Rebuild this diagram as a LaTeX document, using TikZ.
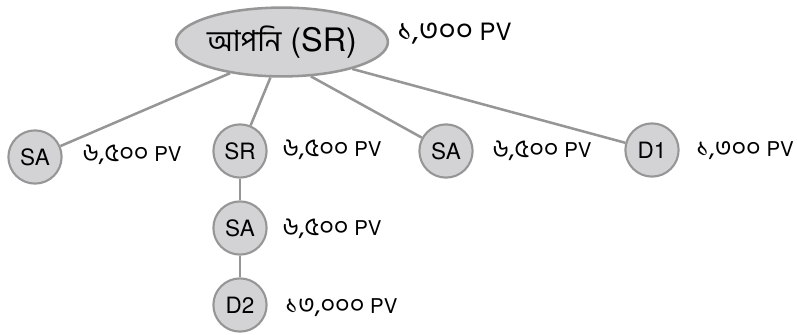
\documentclass[tikz,border=0pt]{standalone}
\usepackage{fontspec}
\setmainfont{TeX Gyre Heros}
\newfontfamily\bn[Script=Bengali,Scale=1.25]{Hind Siliguri}
\newfontfamily\bnw[Script=Bengali,Scale=0.9]{Hind Siliguri}
\usetikzlibrary{shapes.geometric}

\definecolor{linegray}{RGB}{150,150,150}
\definecolor{fillgray}{RGB}{211,211,213}

\tikzset{
  member/.style={draw=linegray,fill=fillgray,circle,line width=1.5pt,inner sep=0pt,
    minimum size=1.33cm,font=\fontsize{16}{18}\selectfont},
  you/.style={draw=linegray,fill=fillgray,ellipse,line width=1.8pt,inner sep=0pt,
    minimum width=5.2cm,minimum height=1.72cm,font=\fontsize{23}{26}\selectfont},
  pv/.style={anchor=base west,inner sep=0pt,font=\fontsize{14.5}{16}\selectfont},
  link/.style={draw=linegray,line width=1.8pt}
}

\begin{document}
\begin{tikzpicture}[x=0.025cm,y=-0.025cm]

\useasboundingbox (0,0) rectangle (797,335);

\node[you] (0) at (282,42) {{\bnw আপনি} (SR)};
\node[member] (1) at (35,157) {SA};%
\node[member] (2) at (240,151) {SR};%
\node[member] (3) at (446,151) {SA};%
\node[member] (4) at (652,150) {D1};%
\node[member] (5) at (240,228) {SA};
\node[member] (6) at (240,305) {D2};

\node[pv,font=\fontsize{17}{19}\selectfont] (10) at (397,40) {{\bn ১,৩০০} PV};
\node[pv] (11) at (82,161) {{\bn ৬,৫০০} PV};
\node[pv] (12) at (282,156) {{\bn ৬,৫০০} PV};
\node[pv] (13) at (492,157) {{\bn ৬,৫০০} PV};
\node[pv] (14) at (696,156) {{\bn ১,৩০০} PV};
\node[pv] (15) at (282,235) {{\bn ৬,৫০০} PV};
\node[pv] (16) at (285,313) {{\bn ১৩,০০০} PV};

\draw[link] (0.211) edge (1);
\draw[link] (0.252) edge (2);
\draw[link] (0.310) edge (3);
\draw[link] (0.339) edge (4);
\draw[link] (2) edge (5);
\draw[link] (5) edge (6);

\end{tikzpicture}
\end{document}
